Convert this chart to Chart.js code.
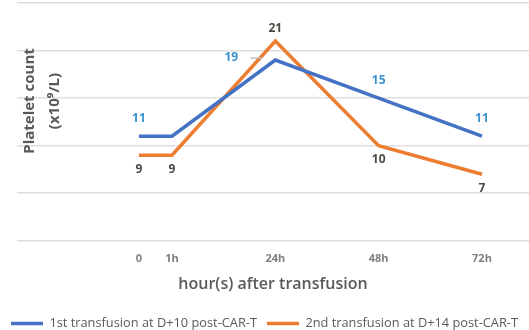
<!DOCTYPE html>
<html>
<head>
<meta charset="utf-8">
<script src="https://cdn.jsdelivr.net/npm/chart.js@4"></script>
<style>
  html, body { margin: 0; padding: 0; background: #fff; }
  #wrap { width: 529px; height: 330px; }
</style>
</head>
<body>
<div id="wrap"><canvas id="chart" width="529" height="330"></canvas></div>
<script>
// categories and where they sit on the axis
const hourLabels = ['0', '1h', '24h', '48h', '72h'];
const hourSlots = [0, 0.32, 1.32, 2.32, 3.32];

// platelet counts (x10^9/L)
const firstTransfusion = [11, 11, 19, 15, 11];
const secondTransfusion = [9, 9, 21, 10, 7];

const seriesNames = ['1st transfusion at D+10 post-CAR-T', '2nd transfusion at D+14 post-CAR-T'];

// label placement for each point ('none' = no label)
const firstLabelPos = ['above', 'none', 'left', 'above', 'above'];
const secondLabelPos = ['below', 'below', 'above', 'below', 'below'];

const BLUE = '#4472c4';
const ORANGE = '#ed7d31';

// value labels next to points, plus the small leader line for the "left" one
const pointLabels = {
  id: 'pointLabels',
  afterDatasetsDraw(chart) {
    const ctx = chart.ctx;
    const specs = [
      { pos: firstLabelPos, color: '#3a93cf' },
      { pos: secondLabelPos, color: '#4a4840' }
    ];
    ctx.save();
    ctx.font = 'bold 12px "Open Sans"';
    ctx.textAlign = 'center';
    ctx.textBaseline = 'middle';
    chart.data.datasets.forEach((ds, i) => {
      const meta = chart.getDatasetMeta(i);
      meta.data.forEach((pt, j) => {
        const where = specs[i].pos[j];
        if (where === 'none') return;
        let x = pt.x, y = pt.y;
        if (where === 'above') y -= (i === 0 ? 18 : 12);
        if (where === 'below') y += 14;
        if (where === 'left') {
          x -= 44; y -= 2;
          ctx.strokeStyle = '#bfbfbf';
          ctx.lineWidth = 1.5;
          ctx.beginPath();
          ctx.moveTo(x + 19, y);
          ctx.lineTo(pt.x - 13, y);
          ctx.stroke();
        }
        ctx.fillStyle = specs[i].color;
        ctx.fillText(ds.data[j].y, x, y);
      });
    });
    ctx.restore();
  }
};

// y title sits over the left end of the grid
const yTitle = {
  id: 'yTitle',
  afterInit(chart) {
    // legend a little tighter at the bottom
    const lg = chart.legend;
    if (lg) {
      const fit = lg.fit.bind(lg);
      lg.fit = function () { fit(); this.height -= 10; };
    }
  },
  afterDraw(chart) {
    const ctx = chart.ctx;
    ctx.save();
    ctx.fillStyle = '#595959';
    ctx.font = 'bold 15px "Open Sans"';
    ctx.textAlign = 'center';
    ctx.textBaseline = 'middle';
    ctx.translate(30, 101);
    ctx.rotate(-Math.PI / 2);
    ctx.fillText('Platelet count', 0, 0);
    ctx.fillText('(x10\u2079/L)', 0, 25);
    ctx.restore();
  }
};

const ctx = document.getElementById('chart').getContext('2d');
new Chart(ctx, {
  type: 'line',
  data: {
    datasets: [
      {
        label: seriesNames[0],
        data: hourSlots.map((s, i) => ({ x: s, y: firstTransfusion[i] })),
        borderColor: BLUE,
        backgroundColor: BLUE,
        borderWidth: 3.5,
        pointRadius: 0,
        tension: 0
      },
      {
        label: seriesNames[1],
        data: hourSlots.map((s, i) => ({ x: s, y: secondTransfusion[i] })),
        borderColor: ORANGE,
        backgroundColor: ORANGE,
        borderWidth: 3.5,
        pointRadius: 0,
        tension: 0
      }
    ]
  },
  options: {
    responsive: false,
    animation: false,
    layout: { padding: { left: 0, right: 0, top: 3, bottom: 0 } },
    plugins: {
      tooltip: { enabled: false },
      legend: {
        position: 'bottom',
        labels: {
          usePointStyle: true,
          pointStyle: 'line',
          pointStyleWidth: 32,
          boxHeight: 12,
          padding: 10,
          color: '#595959',
          font: { family: 'Open Sans', size: 12.8 }
        }
      }
    },
    scales: {
      x: {
        type: 'linear',
        min: -1.18,
        max: 3.775,
        grid: { display: false },
        border: { display: false },
        afterBuildTicks: axis => {
          axis.ticks = hourSlots.map(v => ({ value: v }));
        },
        ticks: {
          autoSkip: false,
          maxRotation: 0,
          padding: 3,
          color: '#7f7f7f',
          font: { family: 'Open Sans', size: 11, weight: 'bold' },
          callback: (v, i) => hourLabels[i]
        },
        title: {
          display: true,
          text: 'hour(s) after transfusion',
          color: '#595959',
          font: { family: 'Open Sans', size: 16, weight: '600' },
          padding: { top: 7, bottom: 13 }
        }
      },
      y: {
        min: 0,
        max: 25,
        afterFit: axis => { axis.width = 17; },
        grid: { color: '#dedede', lineWidth: 1.5, drawTicks: false },
        border: { display: false },
        ticks: { display: false, stepSize: 5 }
      }
    }
  },
  plugins: [pointLabels, yTitle]
});
</script>
</body>
</html>
